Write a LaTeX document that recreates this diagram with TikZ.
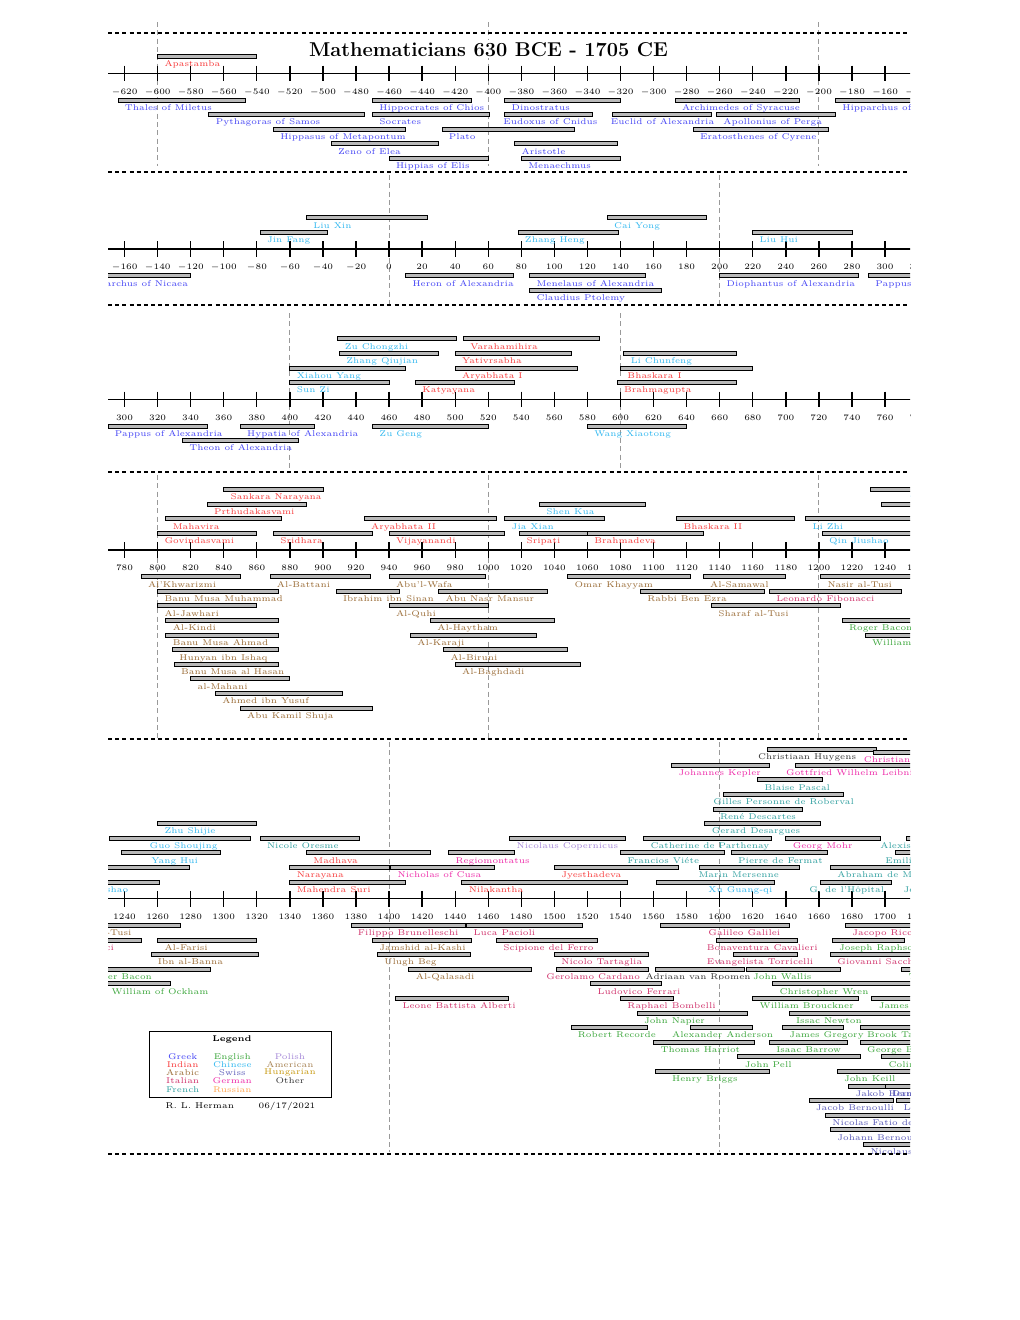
\documentclass[tikz,border=0pt]{standalone}
\usepackage{tikz}
\definecolor{greekc}{HTML}{4343F5}
\definecolor{indianc}{HTML}{F83A3A}
\definecolor{arabicc}{HTML}{9A6B35}
\definecolor{italianc}{HTML}{D0306A}
\definecolor{frenchc}{HTML}{30A0A0}
\definecolor{englishc}{HTML}{3AA63A}
\definecolor{chinesec}{HTML}{30B8F0}
\definecolor{swissc}{HTML}{5858B8}
\definecolor{germanc}{HTML}{EE28A8}
\definecolor{russianc}{HTML}{FFA650}
\definecolor{polishc}{HTML}{A486D8}
\definecolor{americanc}{HTML}{A88455}
\definecolor{hungarianc}{HTML}{C89A10}
\definecolor{otherc}{HTML}{333333}

% start/end/row (<0 above the axis)/label shift in years/colour/name
\newcommand\mathematicians{%
  -600/-540/-1/0/indianc/Apastamba,
  -624/-547/1/0/greekc/Thales of Miletus,
  -470/-410/1/0/greekc/Hippocrates of Chios,
  -390/-320/1/0/greekc/Dinostratus,
  -287/-212/1/0/greekc/Archimedes of Syracuse,
  -190/-120/1/0/greekc/Hipparchus of Nicaea,
  -569/-475/2/0/greekc/Pythagoras of Samos,
  -470/-399/2/0/greekc/Socrates,
  -390/-337/2/-5/greekc/Eudoxus of Cnidus,
  -325/-265/2/-5/greekc/Euclid of Alexandria,
  -262/-190/2/0/greekc/Apollonius of Perga,
  -530/-450/3/0/greekc/Hippasus of Metapontum,
  -428/-348/3/0/greekc/Plato,
  -276/-194/3/0/greekc/Eratosthenes of Cyrene,
  -495/-430/4/0/greekc/Zeno of Elea,
  -384/-322/4/0/greekc/Aristotle,
  -460/-400/5/0/greekc/Hippias of Elis,
  -380/-320/5/0/greekc/Menaechmus,
  -78/-37/-1/0/chinesec/Jin Fang,
  -50/23/-2/0/chinesec/Liu Xin,
  78/139/-1/0/chinesec/Zhang Heng,
  132/192/-2/0/chinesec/Cai Yong,
  220/280/-1/0/chinesec/Liu Hui,
  10/75/1/0/greekc/Heron of Alexandria,
  85/155/1/0/greekc/Menelaus of Alexandria,
  85/165/2/0/greekc/Claudius Ptolemy,
  200/284/1/0/greekc/Diophantus of Alexandria,
  290/350/1/0/greekc/Pappus of Alexandria,
  400/460/-1/0/chinesec/Sun Zi,
  476/536/-1/0/indianc/Katyayana,
  598/670/-1/0/indianc/Brahmagupta,
  400/470/-2/0/chinesec/Xiahou Yang,
  500/574/-2/0/indianc/Aryabhata I,
  600/680/-2/0/indianc/Bhaskara I,
  430/490/-3/0/chinesec/Zhang Qiujian,
  500/570/-3/0/indianc/Yativrsabha,
  602/670/-3/0/chinesec/Li Chunfeng,
  429/501/-4/0/chinesec/Zu Chongzhi,
  505/587/-4/0/indianc/Varahamihira,
  370/415/1/0/greekc/Hypatia of Alexandria,
  450/520/1/0/chinesec/Zu Geng,
  580/640/1/0/chinesec/Wang Xiaotong,
  335/405/2/0/greekc/Theon of Alexandria,
  800/860/-1/0/indianc/Govindasvami,
  870/930/-1/0/indianc/Sridhara,
  940/1010/-1/0/indianc/Vijayanandi,
  1019/1066/-1/0/indianc/Sripati,
  1060/1130/-1/0/indianc/Brahmadeva,
  1202/1261/-1/0/chinesec/Qin Jiushao,
  805/875/-2/0/indianc/Mahavira,
  925/1005/-2/0/indianc/Aryabhata II,
  1010/1070/-2/0/chinesec/Jia Xian,
  1114/1185/-2/0/indianc/Bhaskara II,
  1192/1279/-2/0/chinesec/Li Zhi,
  830/890/-3/0/indianc/Prthudakasvami,
  1031/1095/-3/0/chinesec/Shen Kua,
  1238/1298/-3/14/chinesec/Yang Hui,
  840/900/-4/0/indianc/Sankara Narayana,
  1231/1316/-4/20/chinesec/Guo Shoujing,
  1260/1320/-5/0/chinesec/Zhu Shijie,
  790/850/1/0/arabicc/Al'Khwarizmi,
  868/929/1/0/arabicc/Al-Battani,
  940/998/1/0/arabicc/Abu'l-Wafa,
  1048/1122/1/0/arabicc/Omar Khayyam,
  1130/1180/1/0/arabicc/Al-Samawal,
  1201/1274/1/0/arabicc/Nasir al-Tusi,
  800/873/2/0/arabicc/Banu Musa Muhammad,
  908/946/2/0/arabicc/Ibrahim ibn Sinan,
  970/1036/2/0/arabicc/Abu Nasr Mansur,
  1092/1167/2/0/arabicc/Rabbi Ben Ezra,
  1170/1250/2/0/italianc/Leonardo Fibonacci,
  800/860/3/0/arabicc/Al-Jawhari,
  940/1000/3/0/arabicc/Al-Quhi,
  1135/1213/3/0/arabicc/Sharaf al-Tusi,
  805/873/4/0/arabicc/Al-Kindi,
  965/1040/4/0/arabicc/Al-Haytham,
  1214/1292/4/0/englishc/Roger Bacon,
  805/873/5/0/arabicc/Banu Musa Ahmad,
  953/1029/5/0/arabicc/Al-Karaji,
  1228/1268/5/0/englishc/William of Ockham,
  809/873/6/0/arabicc/Hunyan ibn Ishaq,
  973/1048/6/0/arabicc/Al-Biruni,
  810/873/7/0/arabicc/Banu Musa al Hasan,
  980/1056/7/0/arabicc/Al-Baghdadi,
  820/880/8/0/arabicc/al-Mahani,
  835/912/9/0/arabicc/Ahmed ibn Yusuf,
  850/930/10/0/arabicc/Abu Kamil Shuja,
  1340/1410/-1/0/indianc/Mahendra Suri,
  1444/1544/-1/0/indianc/Nilakantha,
  1562/1633/-1/27/chinesec/Xu Guang-qi,
  1661/1704/-1/-11/frenchc/G. de l'Hôpital,
  1717/1783/-1/-10/frenchc/Jean d'Alembert,
  1340/1400/-2/0/indianc/Narayana,
  1401/1464/-2/0/germanc/Nicholas of Cusa,
  1500/1575/-2/0/indianc/Jyesthadeva,
  1588/1648/-2/-5/frenchc/Marin Mersenne,
  1667/1754/-2/0/frenchc/Abraham de Moivre,
  1350/1425/-3/0/indianc/Madhava,
  1436/1476/-3/0/germanc/Regiomontatus,
  1540/1603/-3/0/frenchc/Francios Viéte,
  1607/1665/-3/0/frenchc/Pierre de Fermat,
  1706/1749/-3/-10/frenchc/Emilie du Chatelet,
  1322/1382/-4/0/frenchc/Nicole Oresme,
  1473/1543/-4/0/polishc/Nicolaus Copernicus,
  1554/1631/-4/0/frenchc/Catherine de Parthenay,
  1640/1697/-4/0/germanc/Georg Mohr,
  1713/1765/-4/-20/frenchc/Alexis Clairaut,
  1591/1661/-5/0/frenchc/Gerard Desargues,
  1596/1650/-6/0/frenchc/René Descartes,
  1602/1675/-7/-10/frenchc/Gilles Personne de Roberval,
  1623/1662/-8/0/frenchc/Blaise Pascal,
  1571/1630/-9/0/germanc/Johannes Kepler,
  1646/1716/-9/-10/germanc/Gottfried Wilhelm Leibniz,
  1629/1695/-10.1/-10/otherc/Christiaan Huygens,
  1693/1764/-9.9/-10/germanc/Christian Goldbach,
  1377/1446/1/0/italianc/Filippo Brunelleschi,
  1447/1517/1/0/italianc/Luca Pacioli,
  1564/1642/1/25/italianc/Galileo Galilei,
  1676/1754/1/0/italianc/Jacopo Riccati,
  1260/1320/2/0/arabicc/Al-Farisi,
  1390/1450/2/0/arabicc/Jamshid al-Kashi,
  1465/1526/2/0/italianc/Scipione del Ferro,
  1598/1647/2/-10/italianc/Bonaventura Cavalieri,
  1668/1712/2/0/englishc/Joseph Raphson,
  1256/1321/3/0/arabicc/Ibn al-Banna,
  1393/1449/3/0/arabicc/Ulugh Beg,
  1500/1557/3/0/italianc/Nicolo Tartaglia,
  1608/1647/3/-20/italianc/Evangelista Torricelli,
  1667/1733/3/0/italianc/Giovanni Saccheri,
  1412/1486/4/0/arabicc/Al-Qalasadi,
  1501/1557/4/-10/italianc/Gerolamo Cardano,
  1561/1615/4/-10/otherc/Adriaan van Roomen,
  1616/1673/4/0/englishc/John Wallis,
  1710/1761/4/0/englishc/Thomas Simpson,
  1522/1565/5/0/italianc/Ludovico Ferrari,
  1632/1723/5/0/englishc/Christopher Wren,
  1404/1472/6/0/italianc/Leone Battista Alberti,
  1540/1572/6/0/italianc/Raphael Bombelli,
  1620/1684/6/0/englishc/William Brouckner,
  1692/1770/6/0/englishc/James Stirling,
  1550/1617/7/0/englishc/John Napier,
  1642/1727/7/0/englishc/Issac Newton,
  1510/1556/8/0/englishc/Robert Recorde,
  1582/1620/8/-15/englishc/Alexander Anderson,
  1638/1675/8/0/englishc/James Gregory,
  1685/1731/8/0/englishc/Brook Taylor,
  1560/1621/9/0/englishc/Thomas Harriot,
  1630/1677/9/0/englishc/Isaac Barrow,
  1685/1753/9/0/englishc/George Berkeley,
  1611/1685/10/0/englishc/John Pell,
  1698/1746/10/0/englishc/Colin Maclaurin,
  1561/1630/11/6/englishc/Henry Briggs,
  1671/1721/11/0/englishc/John Keill,
  1678/1733/12/0/swissc/Jakob Hermann,
  1700/1782/12/0/swissc/Daniel Bernoulli,
  1654/1705/13/0/swissc/Jacob Bernoulli,
  1707/1783/13/0/swissc/Leonhard Euler,
  1664/1753/14/0/swissc/Nicolas Fatio de Duillier,
  1667/1748/15/0/swissc/Johann Bernoulli,
  1687/1759/16/0/swissc/Nicolaus Bernoulli}

% #1 band, #2 first year, #3 axis y, #4/#5 clip top/bottom, #6/#7 year lines top/bottom
\newcommand\timeband[7]{%
  \begin{scope}
    \clip (108,#4) rectangle (910,#5);
    \begin{scope}[xshift={64.8pt-(#2)*0.99198pt}, yshift={-(#3)*0.6pt}, x=0.99198pt]
      \foreach \v in {-600,-400,...,1600}
        \draw[yearline] (\v,{#6-#3}) -- (\v,{#7-#3});
      \draw[axisline] ({#2-20},0) -- ({#2+510},0);
      \foreach \t [count=\k] in {-640,-620,...,1720}{
        \draw[tickmark] (\t,-7.8) -- (\t,7.8);
        \node[ticklabel] (tick-#1-\k) at (\t,20.7) {$\t$};
      }
      \foreach \ms/\me/\mr/\md/\mcol/\mn [count=\k] in \mathematicians{
        \pgfmathsetmacro\rowy{\mr>0 ? 12.1+14.6*\mr : -2.1+14.6*\mr}
        \draw[lifebar] (\ms,\rowy-2) rectangle (\me,\rowy+2);
        \node[namelabel, text=\mcol] (name-#1-\k) at (\ms+4+\md,\rowy+10.3) {\mn};
      }
    \end{scope}
  \end{scope}}

\begin{document}
\begin{tikzpicture}[
    x=0.6pt, y=-0.6pt,
    yearline/.style={gray!80, dash pattern=on 3pt off 2pt, line width=0.5pt},
    bandsep/.style={black, dash pattern=on 2.4pt off 1.9pt, thick},
    axisline/.style={thick},
    tickmark/.style={thick},
    ticklabel/.style={font=\tiny, anchor=base, inner sep=0pt},
    lifebar/.style={draw=black, fill=gray!55, line width=0.5pt},
    namelabel/.style={font=\tiny, anchor=base west, inner sep=0pt},
    legendtext/.style={font=\tiny, anchor=base, inner sep=0pt},
  ]
  \useasboundingbox (0,0) rectangle (1020,1320);
  \fill[white] (0,0) rectangle (1020,1320);

  % the five strips of the time line
  \timeband{a}{-630}{73.3}{18}{172}{22}{166}
  \timeband{b}{-170}{249}{173}{305}{175}{305}
  \timeband{c}{290}{399.3}{306}{472}{313}{470}
  \timeband{d}{770}{550}{473}{739}{475}{738}
  \timeband{e}{1230}{898.7}{740}{1160}{742}{1152}

  \foreach \y in {33,172,305,472,739,1154}
    \draw[bandsep] (108,\y) -- (910,\y);

  \node[font=\large\bfseries, anchor=base, fill=white, inner sep=1pt] (title) at (488.5,56)
    {Mathematicians 630 BCE - 1705 CE};

  % legend
  \node[draw, line width=0.5pt, minimum width=109.2pt, minimum height=39.6pt, inner sep=0pt] (legend) at (240.3,1064.7) {};
  \node[legendtext, font=\tiny\bfseries] (legend-head) at (232,1041.5) {Legend};
  \foreach \lx/\ly/\lc/\ln [count=\k] in {
      182.7/1059/greekc/Greek, 182.7/1067.3/indianc/Indian, 182.7/1075.6/arabicc/Arabic,
      182.7/1083.6/italianc/Italian, 182.7/1092/frenchc/French,
      232.3/1059/englishc/English, 232.3/1067.3/chinesec/Chinese, 232.3/1075.6/swissc/Swiss,
      232.3/1083.6/germanc/German, 232.3/1092/russianc/Russian,
      290/1059/polishc/Polish, 290/1067.3/americanc/American, 290/1074.8/hungarianc/Hungarian,
      290/1083.6/otherc/Other}
    \node[legendtext, text=\lc] (legend-\k) at (\lx,\ly) {\ln};
  \node[legendtext] (author) at (199.8,1108) {R. L. Herman};
  \node[legendtext] (date) at (287,1108) {06/17/2021};
\end{tikzpicture}
\end{document}
